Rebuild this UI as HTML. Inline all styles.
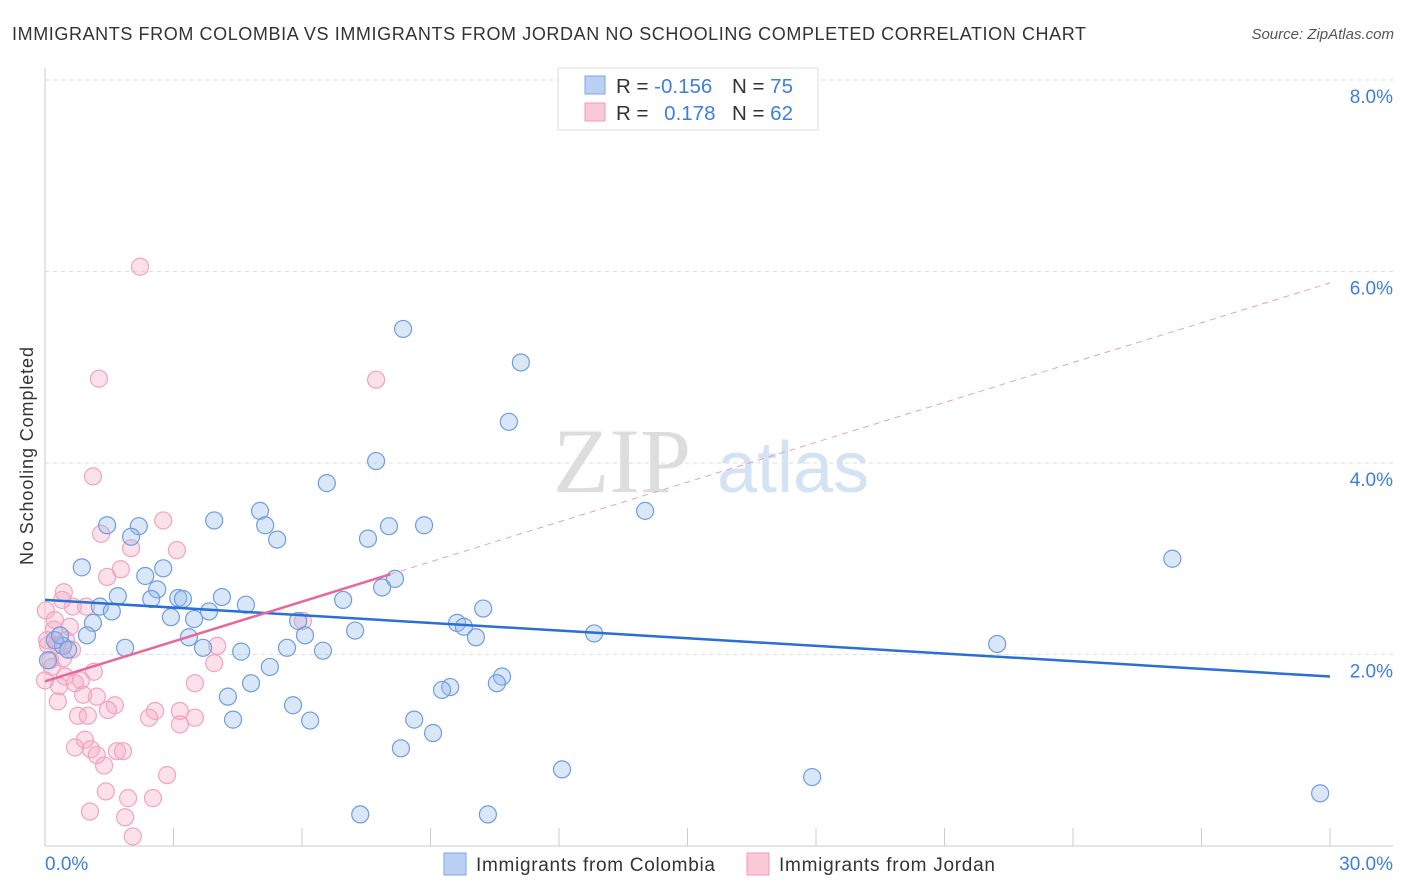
<!DOCTYPE html>
<html><head><meta charset="utf-8">
<style>
body{margin:0;background:#fff;font-family:"Liberation Sans",sans-serif;}
svg{display:block}
</style></head>
<body>
<svg width="1406" height="892" viewBox="0 0 1406 892">
<text x="12" y="40" font-size="18" fill="#333" textLength="1074" lengthAdjust="spacing">IMMIGRANTS FROM COLOMBIA VS IMMIGRANTS FROM JORDAN NO SCHOOLING COMPLETED CORRELATION CHART</text>
<text x="1394" y="39" font-size="15" fill="#555" font-style="italic" text-anchor="end">Source: ZipAtlas.com</text>
<text transform="translate(33,456) rotate(-90)" font-size="18" fill="#333" text-anchor="middle" textLength="218" lengthAdjust="spacing">No Schooling Completed</text>
<g>
<text x="553" y="492" font-size="92" fill="#ddd" font-family="Liberation Serif,serif">ZIP</text>
<text x="717" y="492" font-size="72" fill="#d3e2f5">atlas</text>
</g>
<g id="grid"></g>
<g id="axes"></g>
<g id="marks"></g>
<g>
<rect x="558" y="68" width="260" height="62" fill="#fff" stroke="#ddd"/>
<rect x="585" y="76" width="20" height="18" fill="#b9d0f3" stroke="#7ea6e3"/>
<rect x="585" y="103" width="20" height="18" fill="#f9c9d7" stroke="#f09ab8"/>
<text x="616" y="93" font-size="20.5" fill="#333">R = <tspan fill="#3d7fd9">-0.156</tspan></text>
<text x="732" y="93" font-size="20.5" fill="#333">N = <tspan fill="#3d7fd9">75</tspan></text>
<text x="616" y="120" font-size="20.5" fill="#333">R = <tspan fill="#3d7fd9" dx="10">0.178</tspan></text>
<text x="732" y="120" font-size="20.5" fill="#333">N = <tspan fill="#3d7fd9">62</tspan></text>
</g>
<g>
<rect x="444" y="853" width="22" height="22" fill="#b9d0f3" stroke="#7ea6e3"/>
<text x="476" y="871" font-size="19" fill="#333" textLength="239" lengthAdjust="spacing">Immigrants from Colombia</text>
<rect x="747" y="853" width="22" height="22" fill="#f9c9d7" stroke="#f09ab8"/>
<text x="779" y="871" font-size="19" fill="#333" textLength="216" lengthAdjust="spacing">Immigrants from Jordan</text>
</g>
</svg>
<script>
const colX=[8.36,11.11,10.83,7.73,6.58,14.01,26.32,5.02,3.95,1.45,2.19,5.14,8.03,8.85,2.01,5.42,7.54,0.86,2.76,2.34,2.62,8.17,7.87,1.70,2.48,3.11,3.22,4.13,4.69,6.96,1.28,1.56,3.83,10.23,2.94,3.48,5.91,9.62,9.78,1.12,10.06,12.82,7.24,6.07,0.98,3.36,22.23,1.87,3.69,4.58,5.65,6.49,0.42,0.23,0.54,5.25,4.81,4.27,10.67,10.55,9.46,9.27,5.79,4.39,6.19,8.62,9.06,8.31,12.07,17.91,7.36,10.34,29.77,0.07,0.35];
const colY=[5.40,5.05,4.43,4.02,3.79,3.50,3.00,3.50,3.40,3.35,3.34,3.35,3.34,3.35,3.23,3.20,3.21,2.91,2.90,2.82,2.68,2.79,2.70,2.61,2.58,2.59,2.58,2.60,2.52,2.57,2.50,2.45,2.45,2.48,2.39,2.37,2.35,2.33,2.29,2.33,2.18,2.22,2.25,2.20,2.20,2.18,2.11,2.07,2.07,2.03,2.07,2.04,2.09,2.15,2.05,1.87,1.70,1.56,1.77,1.70,1.66,1.63,1.47,1.32,1.31,1.32,1.18,1.02,0.80,0.72,0.33,0.33,0.55,1.94,2.20];
const jorX=[2.22,1.26,7.73,1.12,2.76,1.31,2.01,3.08,1.77,1.45,0.44,0.65,0.96,6.02,0.58,0.21,0.05,0.28,4.02,0.42,0.16,1.14,0.47,0.84,3.95,0.33,0.70,3.50,1.21,0.89,0.30,1.63,1.47,2.57,3.15,0.77,1.00,2.43,3.50,3.15,0.93,0.70,1.07,1.68,1.82,1.21,1.38,2.85,1.42,1.94,2.52,1.05,1.87,2.05,0.02,0.12,0.07,0.23,0.40,0.00,0.63,0.49];
const jorY=[6.05,4.88,4.87,3.86,3.40,3.26,3.11,3.09,2.89,2.81,2.65,2.50,2.50,2.35,2.29,2.26,2.15,2.10,2.09,1.96,1.87,1.82,1.77,1.73,1.91,1.67,1.70,1.70,1.56,1.58,1.51,1.47,1.42,1.41,1.41,1.36,1.36,1.34,1.34,1.27,1.11,1.03,1.01,0.99,0.99,0.95,0.84,0.74,0.57,0.50,0.50,0.36,0.30,0.10,2.46,1.94,2.10,2.36,2.57,1.73,2.05,2.15];
const colTrend=[2.57,1.77];
const jorTrend=[1.72,0.1387,8.06];
const yTicks=[2,4,6,8];
const yTickLabels=["2.0%","4.0%","6.0%","8.0%"];
const xTickVals=[0,3,6,9,12,15,18,21,24,27,30];
const NS="http://www.w3.org/2000/svg";
const xs=v=>45+v/30*1285;
const ys=v=>846-v*95.75;
function mk(tag,attrs,parent){const e=document.createElementNS(NS,tag);for(const k in attrs)e.setAttribute(k,attrs[k]);parent.appendChild(e);return e;}
const grid=document.getElementById('grid'),axes=document.getElementById('axes'),marks=document.getElementById('marks');
yTicks.forEach((t,i)=>{
 const l=mk('line',{x1:45,x2:1393,y1:ys(t),y2:ys(t),stroke:'#ddd','stroke-dasharray':'4,4'},grid);
 
 
 const tx=mk('text',{x:1393,y:ys(t)+23,'font-size':19,fill:'#3d7fd9','text-anchor':'end'},axes);
 tx.textContent=yTickLabels[i];
 
 
});
let a=mk('line',{x1:45,x2:45,y1:68,y2:846,stroke:'#ccc'},axes);


a=mk('line',{x1:45,x2:1393,y1:846,y2:846,stroke:'#ccc'},axes);


xTickVals.forEach(v=>{
 const t=mk('line',{x1:xs(v),x2:xs(v),y1:828,y2:846,stroke:'#ccc'},axes);
 
 
});
let xl=mk('text',{x:45,y:870,'font-size':19,fill:'#3d7fd9'},axes);xl.textContent='0.0%';


xl=mk('text',{x:1393,y:870,'font-size':19,fill:'#3d7fd9','text-anchor':'end'},axes);xl.textContent='30.0%';


jorX.forEach((x,i)=>{
 const c=mk('circle',{cx:xs(x),cy:ys(jorY[i]),r:8.5,fill:'rgba(246,170,196,0.35)',stroke:'#f2a3be','stroke-width':1.2},marks);
 
 
});
colX.forEach((x,i)=>{
 const c=mk('circle',{cx:xs(x),cy:ys(colY[i]),r:8.5,fill:'rgba(150,185,235,0.35)',stroke:'#6f9de0','stroke-width':1.2},marks);
 
 
});
let tl=mk('line',{x1:xs(0),y1:ys(colTrend[0]),x2:xs(30),y2:ys(colTrend[1]),stroke:'#2a6fd6','stroke-width':2.5},marks);


const jy=x=>jorTrend[0]+jorTrend[1]*x;
tl=mk('line',{x1:xs(0),y1:ys(jy(0)),x2:xs(jorTrend[2]),y2:ys(jy(jorTrend[2])),stroke:'#e8679a','stroke-width':2.5},marks);


tl=mk('line',{x1:xs(jorTrend[2]),y1:ys(jy(jorTrend[2])),x2:xs(30),y2:ys(jy(30)),stroke:'#e8a0bb','stroke-width':1,'stroke-dasharray':'6,5'},marks);


</script>
</body></html>
